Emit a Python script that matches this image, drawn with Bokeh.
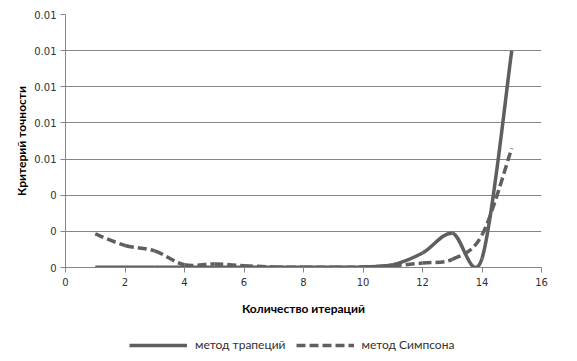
import numpy as np
from bokeh.plotting import figure
from bokeh.layouts import column
from bokeh.models import ColumnDataSource, Legend, LegendItem, FixedTicker
from bokeh.embed import file_html
from bokeh.resources import INLINE

# ---- data ----
iterations = [1, 2, 3, 4, 5, 6, 7, 8, 9, 10, 11, 12, 13, 14, 15]
trapezoid = [0.00002, 0.00002, 0.00002, 0.00002, 0.00002, 0.00002, 0.00002,
             0.00002, 0.00002, 0.00003, 0.00015, 0.0008, 0.0019, 0.0005, 0.0120]
simpson = [0.00186, 0.00122, 0.00092, 0.00015, 0.0002, 0.0001, 0.00003,
           0.00001, 0.00001, 0.00003, 0.0001, 0.00025, 0.00045, 0.0018, 0.0066]
series_names = ["метод трапеций", "метод Симпсона"]
x_ticks = [0, 2, 4, 6, 8, 10, 12, 14, 16]
y_ticks = [0, 0.002, 0.004, 0.006, 0.008, 0.010, 0.012, 0.014]
y_tick_labels = ["0", "0", "0", "0.01", "0.01", "0.01", "0.01", "0.01"]
x_title = "Количество итераций"
y_title = "Критерий точности"

LINE = "#5f5f5f"
GRID = "#868686"
W = 569


def smooth_segments(xs, ys):
    """Bezier segments (Catmull-Rom style control points), like a smoothed line."""
    xs = np.asarray(xs, float)
    ys = np.asarray(ys, float)
    n = len(xs)
    px = np.concatenate([[xs[0]], xs, [xs[-1]]])
    py = np.concatenate([[ys[0]], ys, [ys[-1]]])
    d = dict(x0=[], y0=[], x1=[], y1=[], cx0=[], cy0=[], cx1=[], cy1=[])
    for i in range(n - 1):
        p0x, p0y = px[i], py[i]
        p1x, p1y = px[i + 1], py[i + 1]
        p2x, p2y = px[i + 2], py[i + 2]
        p3x, p3y = px[i + 3], py[i + 3]
        d["x0"].append(p1x); d["y0"].append(p1y)
        d["x1"].append(p2x); d["y1"].append(p2y)
        d["cx0"].append(p1x + (p2x - p0x) / 6); d["cy0"].append(p1y + (p2y - p0y) / 6)
        d["cx1"].append(p2x - (p3x - p1x) / 6); d["cy1"].append(p2y - (p3y - p1y) / 6)
    return ColumnDataSource(d)


p = figure(width=W, height=330, output_backend="svg", toolbar_location=None,
           x_range=(0, 16), y_range=(0, 0.014),
           min_border_left=65, min_border_right=28, min_border_top=14,
           min_border_bottom=63)
p.outline_line_color = None
p.background_fill_color = "white"
p.border_fill_color = "white"

# grid
p.xgrid.grid_line_color = None
p.ygrid.grid_line_color = GRID
p.ygrid.grid_line_width = 1

# axes
for ax in (p.xaxis[0], p.yaxis[0]):
    ax.axis_line_color = GRID
    ax.major_tick_line_color = GRID
    ax.major_tick_out = 5
    ax.major_tick_in = 0
    ax.minor_tick_line_color = None
    ax.major_label_text_font = "DejaVu Sans"
    ax.major_label_text_font_size = "10px"
    ax.major_label_text_color = "#303030"
    ax.axis_label_text_font = "Lato"
    ax.axis_label_text_font_style = "bold"
    ax.axis_label_text_font_size = "12px"
    ax.axis_label_text_color = "#000000"

p.xaxis.ticker = FixedTicker(ticks=x_ticks)
p.yaxis.ticker = FixedTicker(ticks=y_ticks)
p.yaxis.major_label_overrides = {t: lab for t, lab in zip(y_ticks, y_tick_labels)}
p.xaxis.major_label_standoff = 5
p.yaxis.major_label_standoff = 4
p.xaxis.axis_label = x_title
p.yaxis.axis_label = y_title
p.xaxis.axis_label_standoff = 12
p.yaxis.axis_label_standoff = 2

# series
p.bezier(x0="x0", y0="y0", x1="x1", y1="y1", cx0="cx0", cy0="cy0", cx1="cx1", cy1="cy1",
         source=smooth_segments(iterations, trapezoid),
         line_color=LINE, line_width=3.5)
p.bezier(x0="x0", y0="y0", x1="x1", y1="y1", cx0="cx0", cy0="cy0", cx1="cx1", cy1="cy1",
         source=smooth_segments(iterations, simpson),
         line_color=LINE, line_width=3.5, line_dash="9 4")

# legend strip underneath the chart (frames are aligned with the chart above)
q = figure(width=W, height=23, output_backend="svg", toolbar_location=None,
           x_range=(0, 1), y_range=(0, 1), x_axis_location=None, y_axis_location=None,
           min_border_left=65, min_border_right=28, min_border_top=0, min_border_bottom=0)
q.outline_line_color = None
q.xgrid.visible = False
q.ygrid.visible = False
r1 = q.line(x=[np.nan], y=[np.nan], line_color=LINE, line_width=3.5)
r2 = q.line(x=[np.nan], y=[np.nan], line_color=LINE, line_width=3.5, line_dash="9 4")
legend = Legend(items=[LegendItem(label=series_names[0], renderers=[r1]),
                       LegendItem(label=series_names[1], renderers=[r2])],
                orientation="horizontal", location=(64, 1),
                border_line_color=None, background_fill_alpha=0,
                padding=0, margin=0, spacing=10, label_standoff=8,
                glyph_width=58, glyph_height=14,
                label_text_font="Lato", label_text_font_size="12px",
                label_text_color="#303030")
q.add_layout(legend, "center")

layout = column(p, q, spacing=0)
open("out.html", "w").write(file_html(layout, INLINE))
